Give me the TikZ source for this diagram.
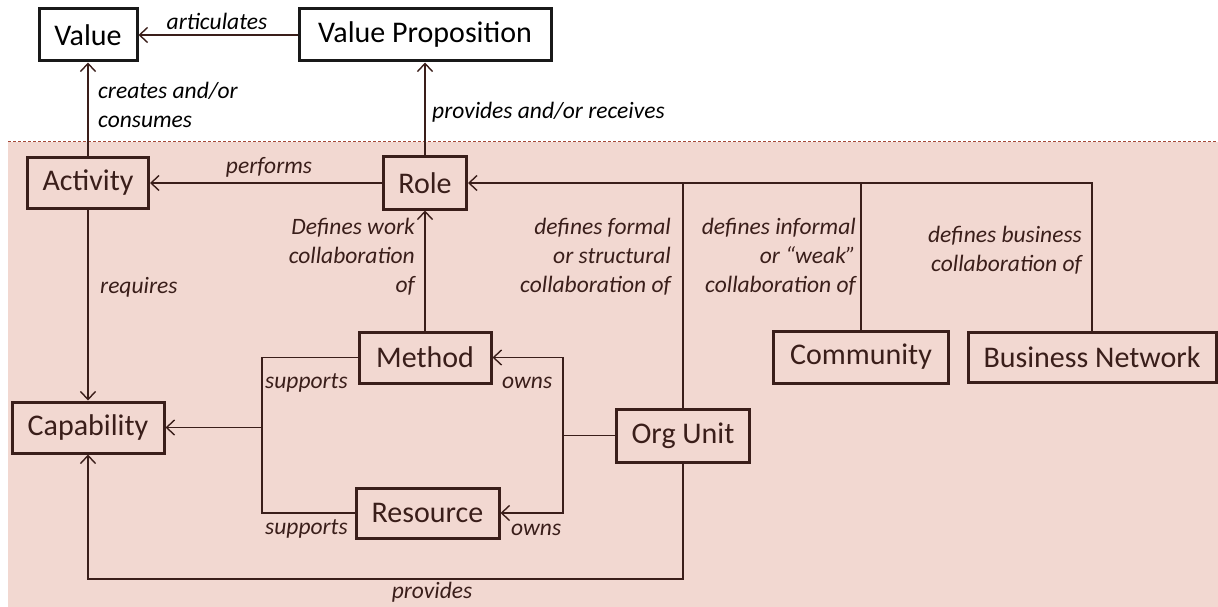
\documentclass[tikz,border=0pt]{standalone}
\usepackage{fontspec}
\setmainfont{Carlito}
\usetikzlibrary{arrows.meta}
\definecolor{bgpink}{RGB}{242,216,209}
\definecolor{ink}{RGB}{58,30,26}
\definecolor{dashred}{RGB}{165,72,56}

\begin{document}
\begin{tikzpicture}[x=1pt,y=-1pt,
  box/.style={draw, line width=3pt, inner sep=0pt, font=\fontsize{30}{36}\selectfont},
  topbox/.style={box, draw=black!90, fill=white, text=black},
  lowbox/.style={box, draw=ink, fill=bgpink, text=ink},
  lbl/.style={font=\fontsize{23.5}{29}\selectfont\itshape, inner sep=0pt},
  lowlbl/.style={lbl, text=ink},
  conn/.style={line width=1.4pt, draw=ink},
  arr/.style={conn, -{Straight Barb[length=8pt,width=15pt]}}
]
\useasboundingbox (0,0) rectangle (1218,607);

% lower (organisational) region
\fill[bgpink] (8,142) rectangle (1218,607);
\draw[draw=dashred, line width=1pt, dash pattern=on 3pt off 2pt] (8,142) -- (1218,142);

% boxes
\node[topbox, minimum width=98pt,  minimum height=52pt] (value)  at (88,35)  {Value};
\node[topbox, minimum width=252pt, minimum height=52pt] (vp)     at (425,35) {Value Proposition};
\node[lowbox, minimum width=121pt, minimum height=51pt] (activity) at (88,183) {Activity};
\node[lowbox, minimum width=83pt,  minimum height=52pt] (role)   at (425,183) {Role};
\node[lowbox, minimum width=132pt, minimum height=51pt] (method) at (425,357.5) {Method};
\node[lowbox, minimum width=152pt, minimum height=51pt] (capability) at (88,427.5) {Capability};
\node[lowbox, minimum width=143pt, minimum height=50pt] (resource) at (427.5,513) {Resource};
\node[lowbox, minimum width=133pt, minimum height=53pt] (orgunit) at (683,435.5) {Org Unit};
\node[lowbox, minimum width=175pt, minimum height=52pt] (community) at (861,357) {Community};
\node[lowbox, minimum width=248pt, minimum height=50pt] (bn) at (1092,357) {Business Network};

% junction points
\coordinate (supj) at (262,427.5);
\coordinate (ownj) at (563,435.5);
\coordinate (provj) at (683,579);

% connectors
\draw[arr] (vp.west) -- (value.east);
\draw[arr] (activity.north) -- (activity.north |- value.south);
\draw[arr] (role.north) -- (role.north |- vp.south);
\draw[arr] (role.west) -- (activity.east);
\draw[arr] (activity.south) -- (activity.south |- capability.north);
\draw[arr] (method.north) -- (method.north |- role.south);
\draw[arr] (bn.north) |- (role.east);
\draw[conn] (community.north) -- (community.north |- role.east);
\draw[conn] (orgunit.north) -- (orgunit.north |- role.east);
\draw[conn] (method.west) -| (supj);
\draw[conn] (resource.west) -| (supj);
\draw[arr] (supj) -- (capability.east);
\draw[conn] (orgunit.west) -- (ownj);
\draw[arr] (ownj) |- (method.east);
\draw[arr] (ownj) |- (resource.east);
\draw[arr] (orgunit.south) -- (provj) -| (capability.south);

% labels
\node[lbl] (tArt) at (217,21) {articulates};
\node[lbl, anchor=west, align=left] (tCreates) at (98,105) {creates and/or\\consumes};
\node[lbl, anchor=west] (tProv) at (432,112) {provides and/or receives};
\node[lowlbl] (tPerf) at (269,167) {performs};
\node[lowlbl, anchor=west] (tReq) at (100,287) {requires};
\node[lowlbl, anchor=east, align=right] (tWork) at (415,257) {Defines work\\collaboration\\of};
\node[lowlbl, anchor=east, align=right] (tFormal) at (671,257) {defines formal\\or structural\\collaboration of};
\node[lowlbl, anchor=east, align=right] (tInformal) at (856,257) {defines informal\\or “weak”\\collaboration of};
\node[lowlbl, anchor=east, align=right] (tBiz) at (1082,250) {defines business\\collaboration of};
\node[lowlbl, anchor=west] (tSupM) at (265,383) {supports};
\node[lowlbl, anchor=west] (tSupR) at (265,529) {supports};
\node[lowlbl, anchor=west] (tOwnM) at (502,383) {owns};
\node[lowlbl, anchor=west] (tOwnR) at (511,530) {owns};
\node[lowlbl] (tProvides) at (432,592) {provides};
\end{tikzpicture}
\end{document}
